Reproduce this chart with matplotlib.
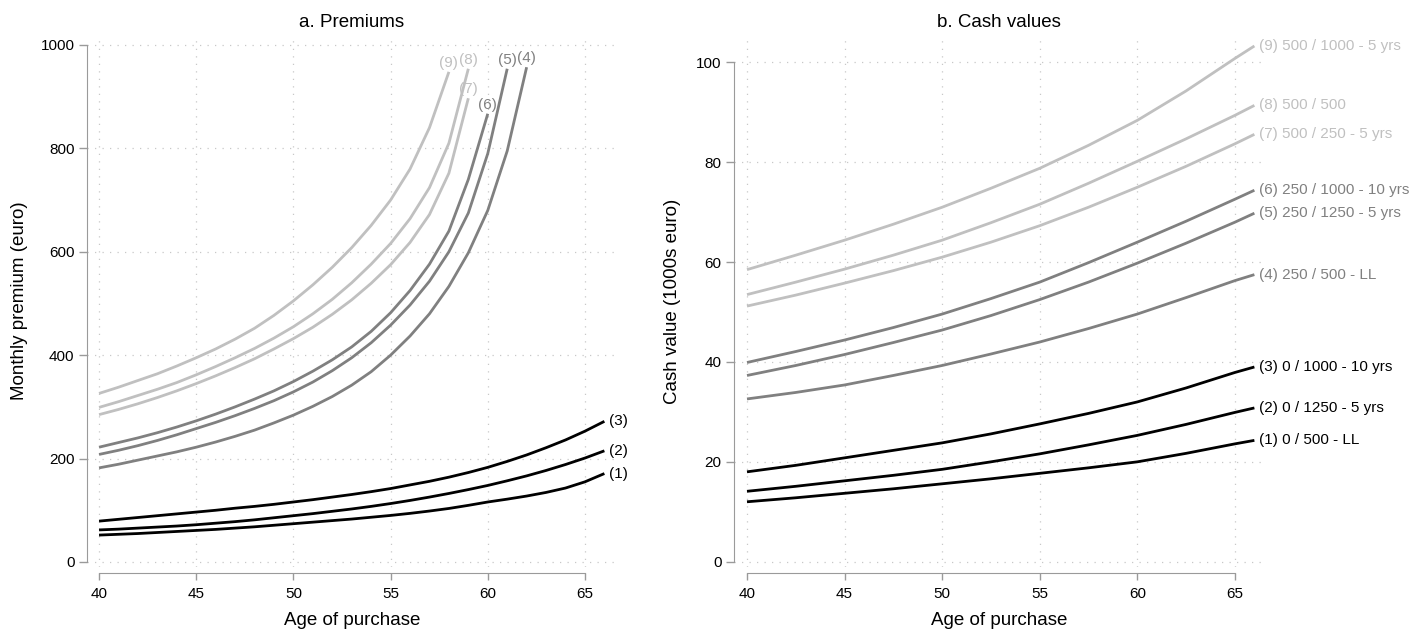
import numpy as np
import matplotlib
matplotlib.use('Agg')
import matplotlib.pyplot as plt

plt.rcParams['font.family'] = ['Liberation Sans', 'DejaVu Sans']

# ---- panel a: monthly premiums (euro) by age of purchase ----
ages_full = list(range(40, 67))
prem_1 = [52, 53.5, 55, 57, 59, 61, 63, 65.5, 68, 71, 74, 77, 80, 83, 86.5, 90,
          94, 98.5, 103.5, 109.5, 116, 121.5, 127.5, 134.5, 143, 155, 171]
prem_2 = [62, 63.5, 65.5, 67.5, 69.5, 72, 75, 78, 81.5, 85.5, 89.5, 93.5, 98, 102.5,
          107.5, 113, 119, 125.5, 132.5, 140, 148, 157, 166.5, 177, 188.5, 201, 215]
prem_3 = [79, 82.5, 86, 89.5, 93, 96.5, 100, 104, 107.5, 111.5, 116, 120.5, 125.5,
          130.5, 136, 142, 149, 156, 164, 173, 183, 194.5, 207, 221, 236, 253, 272]
prem_4 = [182, 189, 197, 205, 213, 222, 232, 243, 255, 269, 284, 301, 320, 342, 368,
          400, 437, 480, 533, 598, 680, 795, 957]
prem_5 = [208, 216, 225, 235, 246, 258, 270, 283, 297, 312, 329, 348, 370, 395, 424,
          458, 497, 543, 600, 675, 790, 954]
prem_6 = [222, 231, 240, 250, 261, 273, 286, 300, 315, 331, 349, 369, 391, 416, 446,
          482, 525, 576, 640, 740, 867]
prem_7 = [285, 295, 306, 318, 331, 345, 360, 376, 393, 412, 432, 454, 479, 507, 539,
          575, 618, 672, 752, 897]
prem_8 = [299, 310, 322, 334, 347, 362, 378, 395, 413, 433, 455, 480, 508, 540, 576,
          616, 664, 724, 810, 954]
prem_9 = [326, 338, 351, 364, 379, 395, 412, 431, 452, 477, 505, 536, 570, 608, 651,
          700, 760, 840, 948]

# ---- panel b: cash values (1000s euro) ----
ages_cv = [40, 42.5, 45, 47.5, 50, 52.5, 55, 57.5, 60, 62.5, 65, 66]
cv_1 = [12.0, 12.8, 13.7, 14.6, 15.6, 16.6, 17.7, 18.8, 20.0, 21.7, 23.6, 24.3]
cv_2 = [14.1, 15.1, 16.2, 17.3, 18.5, 20.0, 21.6, 23.4, 25.3, 27.5, 29.9, 30.8]
cv_3 = [18.0, 19.3, 20.8, 22.3, 23.8, 25.6, 27.6, 29.7, 32.0, 34.8, 37.9, 39.0]
cv_4 = [32.6, 33.9, 35.4, 37.3, 39.3, 41.6, 44.0, 46.7, 49.6, 52.9, 56.3, 57.5]
cv_5 = [37.3, 39.3, 41.5, 43.9, 46.4, 49.3, 52.5, 56.0, 59.8, 63.8, 68.0, 69.8]
cv_6 = [39.9, 42.1, 44.4, 46.9, 49.6, 52.7, 56.0, 59.9, 64.0, 68.2, 72.6, 74.4]
cv_7 = [51.2, 53.4, 55.8, 58.3, 61.0, 64.0, 67.3, 71.0, 75.0, 79.2, 83.7, 85.6]
cv_8 = [53.5, 56.0, 58.6, 61.4, 64.4, 67.9, 71.6, 75.8, 80.2, 84.7, 89.4, 91.4]
cv_9 = [58.5, 61.4, 64.4, 67.6, 71.0, 74.8, 78.8, 83.4, 88.4, 94.3, 100.8, 103.3]

cv_names = ['(1) 0 / 500 - LL', '(2) 0 / 1250 - 5 yrs', '(3) 0 / 1000 - 10 yrs',
            '(4) 250 / 500 - LL', '(5) 250 / 1250 - 5 yrs', '(6) 250 / 1000 - 10 yrs',
            '(7) 500 / 250 - 5 yrs', '(8) 500 / 500', '(9) 500 / 1000 - 5 yrs']

BLACK, MID, LIGHT = '#000000', '#808080', '#c0c0c0'
colors = [BLACK] * 3 + [MID] * 3 + [LIGHT] * 3
AXIS_GREY = '#9a9a9a'

prem = [prem_1, prem_2, prem_3, prem_4, prem_5, prem_6, prem_7, prem_8, prem_9]
cv = [cv_1, cv_2, cv_3, cv_4, cv_5, cv_6, cv_7, cv_8, cv_9]

fig = plt.figure(figsize=(14.24, 6.33), dpi=100)
ax1 = fig.add_axes([0.0611, 0.1043, 0.3722, 0.8404])
ax2 = fig.add_axes([0.5154, 0.1043, 0.3722, 0.8404])


def style_axes(ax, yticks):
    ax.set_xticks(range(40, 66, 5))
    ax.set_yticks(yticks)
    ax.grid(True, color='#c8c8c8', linestyle=(0, (1, 5)), linewidth=0.9)
    ax.set_axisbelow(True)
    for side in ['top', 'right']:
        ax.spines[side].set_visible(False)
    ax.spines['left'].set_color(AXIS_GREY)
    ax.spines['left'].set_bounds(yticks[0], yticks[-1])
    ax.spines['bottom'].set_color(AXIS_GREY)
    ax.spines['bottom'].set_position(('outward', 4.5))
    ax.spines['bottom'].set_bounds(40, 65)
    ax.tick_params(axis='both', colors=AXIS_GREY, labelcolor='black', labelsize=11,
                   width=1.0)
    ax.tick_params(axis='x', length=5, pad=5)
    ax.tick_params(axis='y', length=6, pad=3)
    ax.set_xlabel('Age of purchase', fontsize=13.5, labelpad=8)


# panel a
for i, (vals, c) in enumerate(zip(prem, colors)):
    ages = ages_full[:len(vals)]
    ax1.plot(ages, vals, color=c, lw=2.0, solid_capstyle='butt')
    tag = '(%d)' % (i + 1)
    if i < 3:
        ax1.annotate(tag, (ages[-1], vals[-1]), xytext=(3, 0), textcoords='offset points',
                     ha='left', va='center', fontsize=11, color=c)
    else:
        ax1.annotate(tag, (ages[-1], vals[-1]), xytext=(0, 1.5), textcoords='offset points',
                     ha='center', va='bottom', fontsize=11, color=c)

ax1.set_xlim(39.38, 66.65)
ax1.set_ylim(-9.7, 1019.3)
style_axes(ax1, [0, 200, 400, 600, 800, 1000])
ax1.set_ylabel('Monthly premium (euro)', fontsize=13.5)
ax1.yaxis.set_label_coords(-0.112, 0.5)
ax1.set_title('a. Premiums', fontsize=13.5, pad=6)

# panel b
for name, vals, c in zip(cv_names, cv, colors):
    ax2.plot(ages_cv, vals, color=c, lw=2.0, solid_capstyle='butt')
    ax2.annotate(name, (ages_cv[-1], vals[-1]), xytext=(3, 0), textcoords='offset points',
                 ha='left', va='center', fontsize=11, color=c, annotation_clip=False)

ax2.set_xlim(39.33, 66.49)
ax2.set_ylim(-1.06, 105.5)
style_axes(ax2, [0, 20, 40, 60, 80, 100])
ax2.set_ylabel('Cash value (1000s euro)', fontsize=13.5)
ax2.yaxis.set_label_coords(-0.100, 0.5)
ax2.set_title('b. Cash values', fontsize=13.5, pad=6)

fig.savefig('out.png', dpi=100, facecolor='white')
